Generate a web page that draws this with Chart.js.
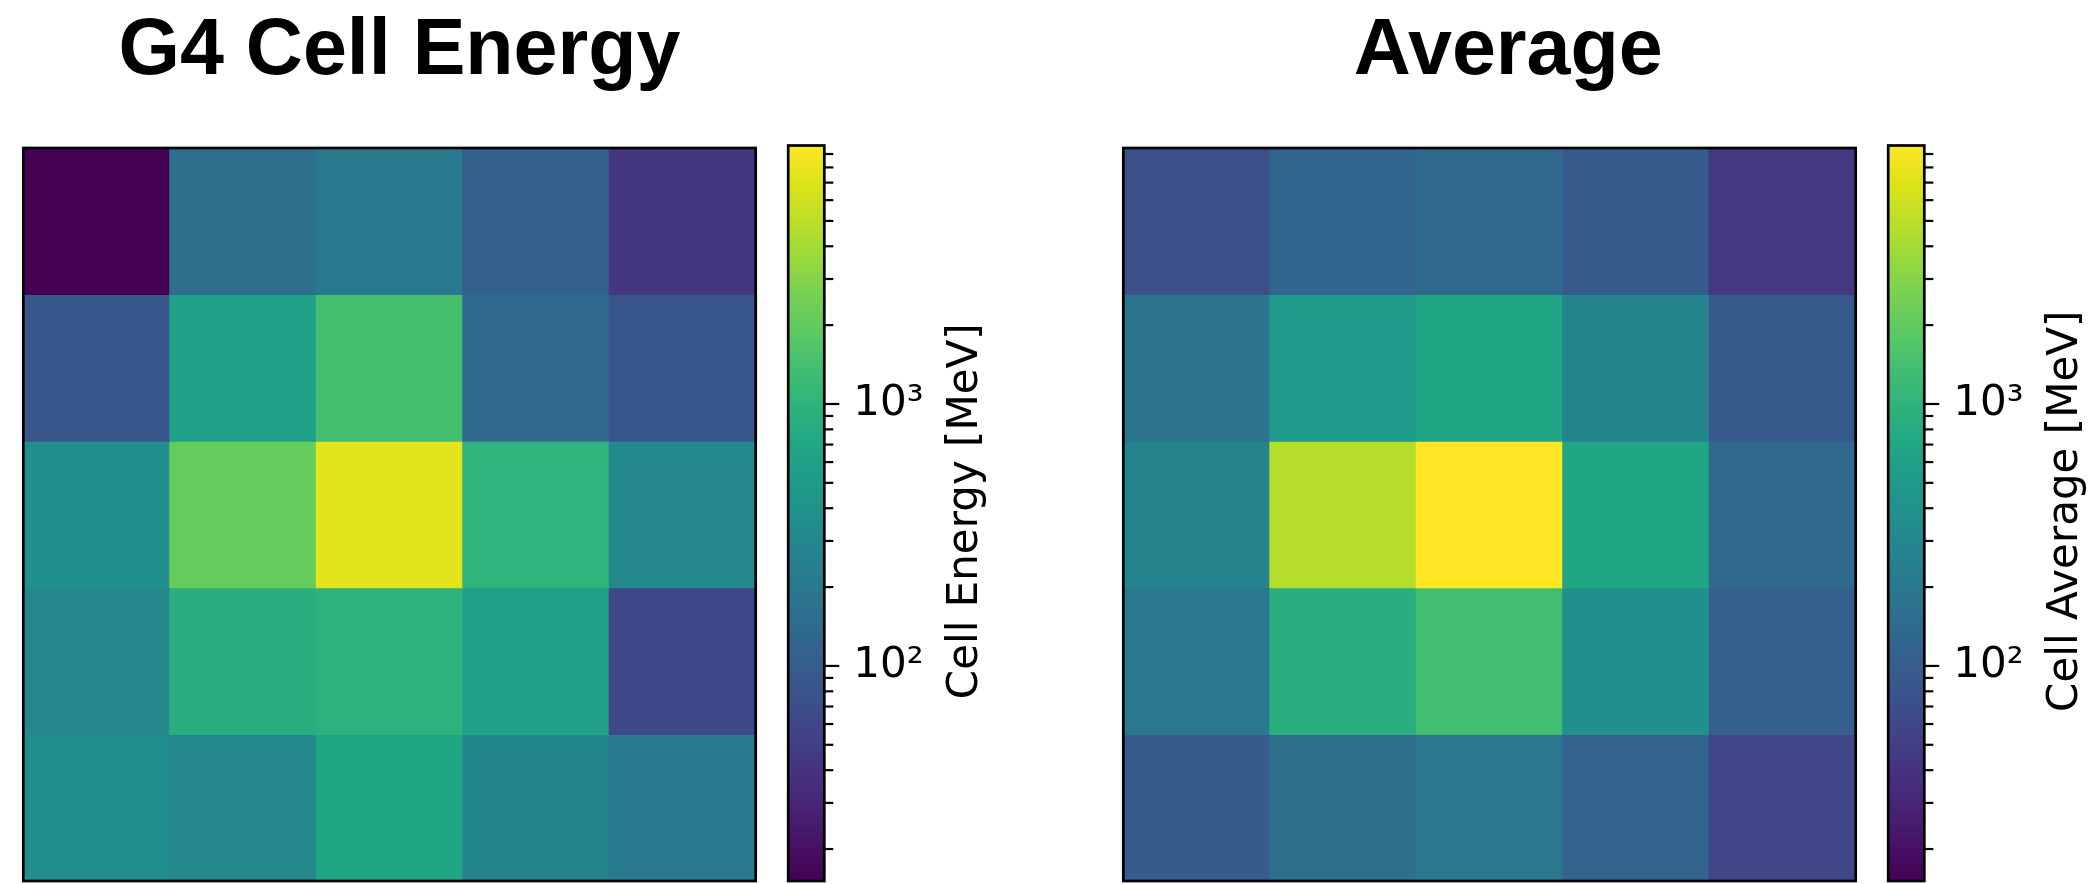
<!DOCTYPE html>
<html><head><meta charset="utf-8">
<script src="https://cdn.jsdelivr.net/npm/chart.js@4.4.1/dist/chart.umd.min.js"></script>
<style>
html,body{margin:0;padding:0;background:#fff;}
#wrap{position:relative;width:2091px;height:884px;overflow:hidden;background:#fff;}
canvas{position:absolute;top:0;}
</style></head><body>
<div id="wrap">
<canvas id="hmL" width="780" height="884" style="left:0px"></canvas>
<canvas id="cbL" width="250" height="884" style="left:760px"></canvas>
<canvas id="hmR" width="795" height="884" style="left:1100px"></canvas>
<canvas id="cbR" width="231" height="884" style="left:1860px"></canvas>
</div>
<script>
// ---------- data ----------
const columns = ['0', '1', '2', '3', '4'];
const rows = ['0', '1', '2', '3', '4'];          // row 0 = top row
const g4Energy = [                                 // MeV
  [15.1, 158, 214, 105, 42.5],
  [86.5, 590, 1413, 138, 83.8],
  [371, 2123, 7345, 1009, 315],
  [309, 859, 959, 602, 59.8],
  [343, 315, 694, 284, 214]
];
const cellAverage = [                              // MeV
  [71.3, 125, 134, 92.3, 43.9],
  [176, 496, 694, 284, 92.3],
  [270, 4710, 9700, 694, 134],
  [201, 859, 1352, 371, 106],
  [94.2, 158, 196, 120, 57.9]
];
const titles = ['G4 Cell Energy', 'Average'];
const cbarLabels = ['Cell Energy [MeV]', 'Cell Average [MeV]'];
const cbarMajorTicks = [100, 1000];
const cbarMajorLabels = ['10²', '10³'];
const cbarMinorTicks = [20, 30, 40, 50, 60, 70, 80, 90, 200, 300, 400, 500, 600, 700, 800, 900,
                        2000, 3000, 4000, 5000, 6000, 7000, 8000, 9000];

// ---------- colour map (viridis) ----------
const viridisStops = ['#440154','#471365','#482374','#46337f','#414487','#3b528b','#355f8d',
  '#2f6c8e','#2a788e','#25848e','#21918c','#1e9c89','#22a884','#2fb47c','#44bf70','#5ec962',
  '#7ad151','#9bd93c','#bddf26','#dfe318','#fde725'];
const stopRGB = viridisStops.map(h => [1, 3, 5].map(i => parseInt(h.substr(i, 2), 16)));
function viridis(t) {
  t = Math.max(0, Math.min(1, t));
  const p = t * (stopRGB.length - 1);
  const i = Math.min(Math.floor(p), stopRGB.length - 2);
  const f = p - i;
  const c = stopRGB[i].map((v, k) => Math.round(v + (stopRGB[i + 1][k] - v) * f));
  return `rgb(${c[0]},${c[1]},${c[2]})`;
}
const allVals = g4Energy.flat().concat(cellAverage.flat());
const vmin = Math.min(...allVals);
const vmax = Math.max(...allVals);
const norm = v => (Math.log10(v) - Math.log10(vmin)) / (Math.log10(vmax) - Math.log10(vmin));

// ---------- plugins ----------
const framePlugin = {
  id: 'frame',
  afterDraw(chart, args, opts) {
    const a = chart.chartArea, ctx = chart.ctx;
    ctx.save();
    ctx.strokeStyle = opts.color || '#000';
    ctx.lineWidth = opts.width || 2.6;
    ctx.strokeRect(a.left, a.top, a.right - a.left, a.bottom - a.top);
    ctx.restore();
  }
};
const cbarTickPlugin = {
  id: 'cbarTicks',
  afterDraw(chart, args, opts) {
    const s = chart.scales.y, a = chart.chartArea, ctx = chart.ctx;
    ctx.save();
    ctx.strokeStyle = '#000';
    ctx.lineWidth = opts.width;
    s.ticks.forEach(t => {
      const y = s.getPixelForValue(t.value);
      const len = t.major ? opts.majorLength : opts.minorLength;
      ctx.beginPath();
      ctx.moveTo(a.right, y);
      ctx.lineTo(a.right + len, y);
      ctx.stroke();
    });
    ctx.restore();
  }
};
const cbarLabelPlugin = {
  id: 'cbarLabel',
  afterDraw(chart, args, opts) {
    const a = chart.chartArea, ctx = chart.ctx;
    ctx.save();
    ctx.translate(a.right + opts.offset, (a.top + a.bottom) / 2 - 2);
    ctx.rotate(-Math.PI / 2);
    ctx.font = opts.font;
    ctx.fillStyle = '#000';
    ctx.textAlign = 'center';
    ctx.textBaseline = 'middle';
    ctx.fillText(opts.text, 0, 0);
    ctx.restore();
  }
};

// ---------- chart builders ----------
function heatmapConfig(matrix, title, axisW, padR) {
  const datasets = matrix.map((rowVals, r) => ({
    label: 'row ' + rows[r],
    data: rowVals.map((v, c) => ({x: columns[c], y: [r, r + 1], v: v})),
    backgroundColor: ctx => (ctx.raw ? viridis(norm(ctx.raw.v)) : '#000'),
    borderWidth: 0,
    categoryPercentage: 1,
    barPercentage: 1,
    grouped: false,
    inflateAmount: 0.5
  }));
  return {
    type: 'bar',
    data: {labels: columns, datasets: datasets},
    options: {
      responsive: false, animation: false, devicePixelRatio: 1,
      events: [],
      layout: {padding: {left: 23.3, right: padR, top: 0, bottom: 3}},
      scales: {
        x: {type: 'category', display: false, offset: true},
        y: {
          type: 'linear', min: 0, max: 5, reverse: true, position: 'right', display: true,
          ticks: {display: false}, grid: {display: false, drawTicks: false}, border: {display: false},
          afterFit: s => { s.width = axisW; s.paddingTop = 0; s.paddingBottom = 0; }
        }
      },
      plugins: {
        legend: {display: false},
        tooltip: {enabled: false},
        title: {
          display: true, text: title, color: '#000',
          font: {family: 'Liberation Sans', weight: 'bold', size: 79, lineHeight: 1.2},
          padding: {top: 5.2, bottom: 48}
        },
        frame: {color: '#000', width: 2.7}
      }
    },
    plugins: [framePlugin]
  };
}

function colorbarConfig(label, canvasW) {
  const tickVals = cbarMinorTicks.concat(cbarMajorTicks).sort((a, b) => a - b);
  return {
    type: 'bar',
    data: {
      labels: [''],
      datasets: [{
        data: [[vmin, vmax]],
        backgroundColor: ctx => {
          const a = ctx.chart.chartArea;
          if (!a) return viridisStops[0];
          const g = ctx.chart.ctx.createLinearGradient(0, a.bottom, 0, a.top);
          viridisStops.forEach((c, i) => g.addColorStop(i / (viridisStops.length - 1), c));
          return g;
        },
        borderWidth: 0, categoryPercentage: 1, barPercentage: 1
      }]
    },
    options: {
      responsive: false, animation: false, devicePixelRatio: 1,
      events: [],
      layout: {padding: {left: 28.2, right: 0, top: 145.5, bottom: 3}},
      scales: {
        x: {display: false},
        y: {
          type: 'logarithmic', position: 'right', min: vmin, max: vmax,
          afterBuildTicks: s => {
            s.ticks = tickVals.map(v => ({value: v, major: cbarMajorTicks.includes(v)}));
          },
          ticks: {
            autoSkip: false, padding: 29, color: '#000',
            font: {family: 'DejaVu Sans', size: 42},
            callback: v => {
              const i = cbarMajorTicks.indexOf(v);
              return i >= 0 ? cbarMajorLabels[i] : '';
            }
          },
          grid: {display: false, drawTicks: false},
          border: {display: false},
          afterFit: s => { s.width = canvasW - 64.3; s.paddingTop = 0; s.paddingBottom = 0; }
        }
      },
      plugins: {
        legend: {display: false},
        tooltip: {enabled: false},
        frame: {color: '#000', width: 2.7},
        cbarTicks: {majorLength: 15, minorLength: 9, width: 2.2},
        cbarLabel: {text: label, offset: 141.5, font: '42px "DejaVu Sans"'}
      }
    },
    plugins: [framePlugin, cbarTickPlugin, cbarLabelPlugin]
  };
}

new Chart(document.getElementById('hmL'), heatmapConfig(g4Energy, titles[0], 20, 4.3));
new Chart(document.getElementById('hmR'), heatmapConfig(cellAverage, titles[1], 37.6, 1.7));
new Chart(document.getElementById('cbL'), colorbarConfig(cbarLabels[0], 250));
new Chart(document.getElementById('cbR'), colorbarConfig(cbarLabels[1], 231));
</script>
</body></html>
